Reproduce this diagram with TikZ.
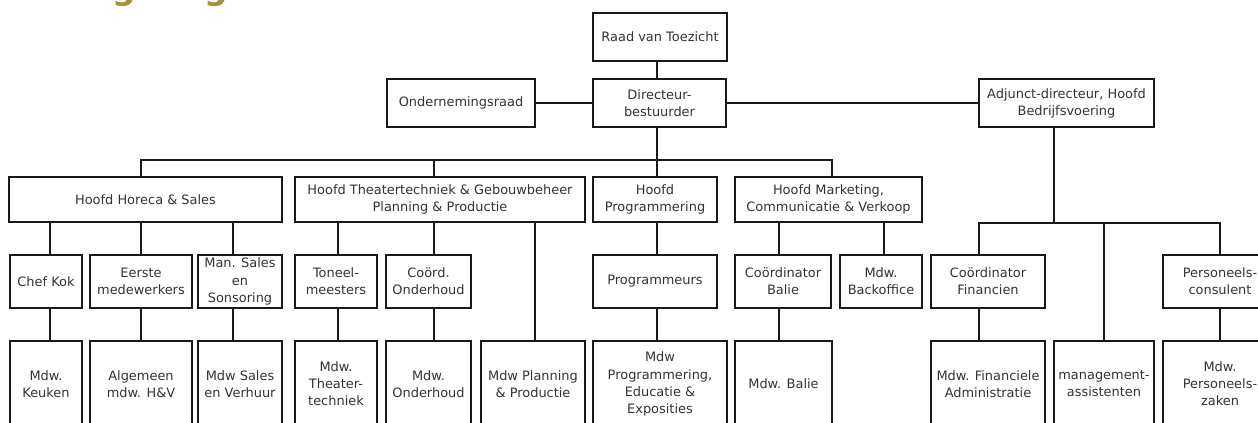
\documentclass[tikz,border=0pt]{standalone}
\usepackage{fontspec}
\setmainfont{DejaVu Sans}
\definecolor{gold}{RGB}{168,143,58}
\definecolor{txt}{RGB}{51,51,51}
\definecolor{ln}{RGB}{25,25,25}
\begin{document}
\begin{tikzpicture}[x=0.75pt,y=-0.75pt,
  box/.style={draw=ln, line width=1.3pt, inner sep=0pt, align=center, text=txt,
    font=\fontsize{9.7}{12.8}\selectfont},
  bw/.style={minimum width=#1*0.75pt},
  bh/.style={minimum height=#1*0.75pt},
  conn/.style={draw=ln, line width=1.3pt}]
\useasboundingbox (0,0) rectangle (1258,423);
\begin{scope}
\clip (0,0) rectangle (1258,423);
\node[anchor=base west, inner sep=0pt, text=gold, font=\fontsize{24.7}{30}\selectfont\bfseries] (title) at (68,0) {Organogram};
% top level
\node[box,bw=134,bh=48] (rvt) at (660,37) {Raad van Toezicht};
\node[box,bw=133,bh=48] (dir) at (659.5,103) {Directeur-\\bestuurder};
\node[box,bw=148,bh=48] (or) at (461,103) {Ondernemingsraad};
\node[box,bw=175,bh=48] (adj) at (1066.5,103) {Adjunct-directeur, Hoofd\\Bedrijfsvoering};
% row 1
\node[box,bw=273,bh=45] (hh) at (145.5,199.5) {Hoofd Horeca \& Sales};
\node[box,bw=290,bh=45] (ht) at (440,199.5) {Hoofd Theatertechniek \& Gebouwbeheer\\Planning \& Productie};
\node[box,bw=124,bh=45] (hp) at (655,199.5) {Hoofd\\Programmering};
\node[box,bw=187,bh=45] (hm) at (828.5,199.5) {Hoofd Marketing,\\Communicatie \& Verkoop};
% row 2
\node[box,bw=72,bh=53] (chef) at (46,281.5) {Chef Kok};
\node[box,bw=102,bh=53] (eerste) at (141,281.5) {Eerste\\medewerkers};
\node[box,bw=84,bh=53] (mansales) at (240,281.5) {Man. Sales\\en\\Sonsoring};
\node[box,bw=82,bh=53] (toneel) at (336,281.5) {Toneel-\\meesters};
\node[box,bw=85,bh=53] (coordond) at (428.5,281.5) {Coörd.\\Onderhoud};
\node[box,bw=124,bh=53] (progr) at (655,281.5) {Programmeurs};
\node[box,bw=96,bh=53] (coordbalie) at (783,281.5) {Coördinator\\Balie};
\node[box,bw=82,bh=53] (backoffice) at (881,281.5) {Mdw.\\Backoffice};
\node[box,bw=114,bh=53] (coordfin) at (988,281.5) {Coördinator\\Financien};
\node[box,bw=114,bh=53] (pers) at (1220,281.5) {Personeels-\\consulent};
% row 3
\node[box,bw=72,bh=86] (keuken) at (46,384) {Mdw.\\Keuken};
\node[box,bw=102,bh=86] (algemeen) at (141,384) {Algemeen\\mdw. H\&V};
\node[box,bw=84,bh=86] (mdwsales) at (240,384) {Mdw Sales\\en Verhuur};
\node[box,bw=82,bh=86] (mdwtheater) at (336,384) {Mdw.\\Theater-\\techniek};
\node[box,bw=85,bh=86] (mdwond) at (428.5,384) {Mdw.\\Onderhoud};
\node[box,bw=104,bh=86] (mdwplanning) at (533,384) {Mdw Planning\\\& Productie};
\node[box,bw=134,bh=86] (mdwprog) at (660,384) {Mdw\\Programmering,\\Educatie \&\\Exposities};
\node[box,bw=97,bh=86] (mdwbalie) at (783.5,384) {Mdw. Balie};
\node[box,bw=114,bh=86] (mdwfin) at (988,384) {Mdw. Financiele\\Administratie};
\node[box,bw=100,bh=86] (mgmt) at (1104,384) {management-\\assistenten};
\node[box,bw=114,bh=86] (mdwpers) at (1220,384) {Mdw.\\Personeels-\\zaken};
% helper coordinates
\foreach \xx in {50,141,233,338,434,535,657,779,832,884,979,1054,1104,1220}
  \coordinate (x\xx) at (\xx,0);
\coordinate (busY) at (0,160);
\coordinate (rbusY) at (0,223);
% connectors
\draw[conn] (rvt.south -| x657) -- (dir.north -| x657);
\draw[conn] (or.east) -- (dir.west);
\draw[conn] (dir.east) -- (adj.west);
\draw[conn] (dir.south -| x657) -- (hp.north -| x657);
\draw[conn] (hh.north -| x141) -- (x141 |- busY) -- (x832 |- busY) -- (hm.north -| x832);
\draw[conn] (ht.north -| x434) -- (x434 |- busY);
\draw[conn] (hh.south -| x50) -- (chef.north -| x50);
\draw[conn] (hh.south -| x141) -- (eerste.north -| x141);
\draw[conn] (hh.south -| x233) -- (mansales.north -| x233);
\draw[conn] (chef.south -| x50) -- (keuken.north -| x50);
\draw[conn] (eerste.south -| x141) -- (algemeen.north -| x141);
\draw[conn] (mansales.south -| x233) -- (mdwsales.north -| x233);
\draw[conn] (ht.south -| x338) -- (toneel.north -| x338);
\draw[conn] (ht.south -| x434) -- (coordond.north -| x434);
\draw[conn] (ht.south -| x535) -- (mdwplanning.north -| x535);
\draw[conn] (toneel.south -| x338) -- (mdwtheater.north -| x338);
\draw[conn] (coordond.south -| x434) -- (mdwond.north -| x434);
\draw[conn] (hp.south -| x657) -- (progr.north -| x657);
\draw[conn] (progr.south -| x657) -- (mdwprog.north -| x657);
\draw[conn] (hm.south -| x779) -- (coordbalie.north -| x779);
\draw[conn] (hm.south -| x884) -- (backoffice.north -| x884);
\draw[conn] (coordbalie.south -| x779) -- (mdwbalie.north -| x779);
\draw[conn] (adj.south -| x1054) -- (x1054 |- rbusY);
\draw[conn] (coordfin.north -| x979) -- (x979 |- rbusY) -- (x1220 |- rbusY) -- (pers.north -| x1220);
\draw[conn] (x1104 |- rbusY) -- (mgmt.north -| x1104);
\draw[conn] (coordfin.south -| x979) -- (mdwfin.north -| x979);
\draw[conn] (pers.south -| x1220) -- (mdwpers.north -| x1220);
\end{scope}
\end{tikzpicture}
\end{document}
